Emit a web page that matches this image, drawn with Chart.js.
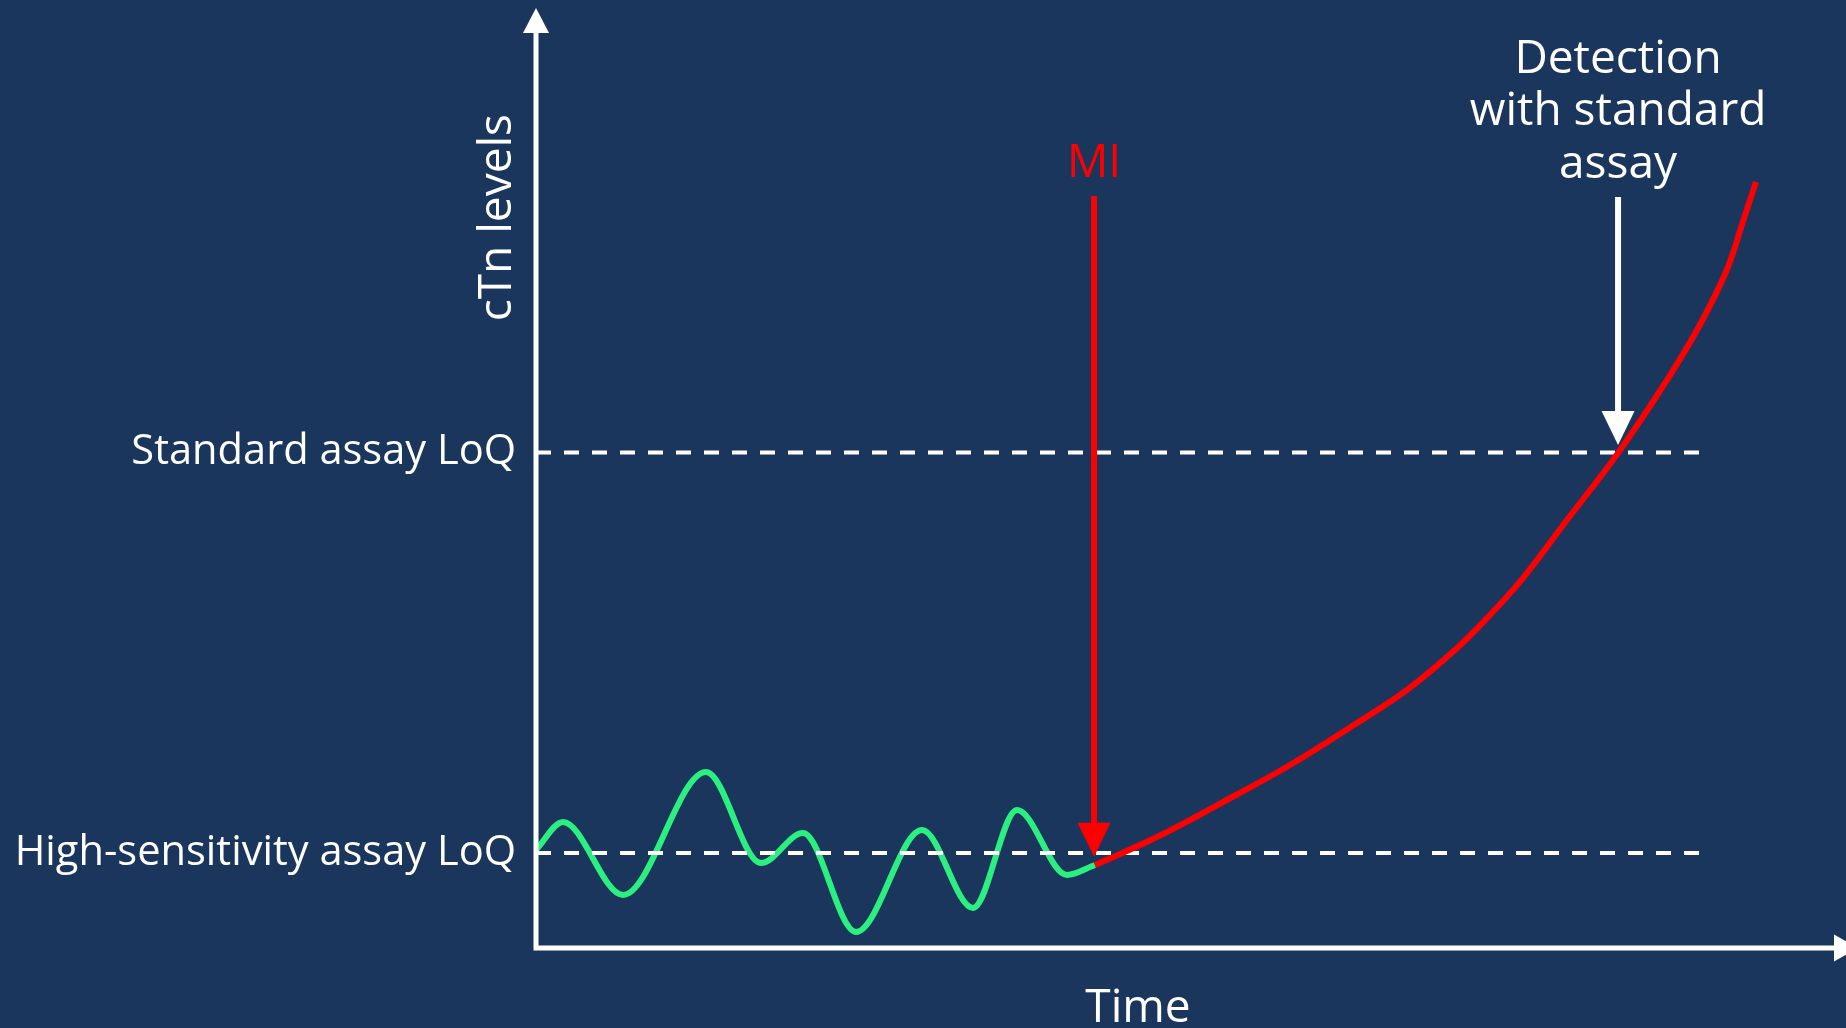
<!DOCTYPE html>
<html>
<head>
<meta charset="utf-8">
<title>cTn levels over time</title>
<script src="https://cdn.jsdelivr.net/npm/chart.js@4"></script>
<style>
  html, body { margin: 0; padding: 0; background: #1A365D; overflow: hidden; }
  #chart { display: block; }
</style>
</head>
<body>
<canvas id="chart" width="1846" height="1028"></canvas>
<script>
// limits of quantification (y axis ticks)
var loqLabels = ['High-sensitivity assay LoQ', 'Standard assay LoQ'];
var loqLevels = [10.1, 52.7];
var loqLineEnd = 88.9;

// baseline fluctuation before MI (green)
var baselineTime  = [0, 2.06, 6.64, 12.98, 17.18, 20.38, 24.43, 29.47, 33.36, 36.72, 40.53, 42.67];
var baselineLevel = [10.43, 13.40, 5.64, 18.72, 9.04, 12.23, 1.70, 12.55, 4.26, 14.68, 7.77, 8.83];

// rise after MI (red)
var riseTime  = [42.67, 47.40, 52.44, 57.56, 62.67, 66.49, 70.31, 72.82, 75.34, 78.70, 82.60, 86.34, 88.85, 90.89, 92.16, 93.13];
var riseLevel = [8.83, 11.81, 15.53, 19.47, 23.94, 27.45, 31.91, 35.43, 39.36, 45.53, 52.66, 60.43, 66.30, 72.10, 77.40, 81.50];

// annotation arrows: MI and detection with standard assay
var arrowTime = [42.6, 82.6];
var arrowFrom = [80.0, 79.9];
var arrowTo   = [9.7, 53.5];
var arrowText = [['MI'], ['Detection', 'with standard', 'assay']];

var axisTitleX = 'Time';
var axisTitleY = 'cTn levels';

var FONT = "'Open Sans', 'Noto Sans', sans-serif";
var arrowColors = ['#FF0000', '#FFFFFF'];

function pts(xs, ys) {
  return xs.map(function (t, i) { return {x: t, y: ys[i]}; });
}

function head(ctx, tx, ty, dir, w, h) {
  ctx.beginPath();
  if (dir === 'up') {
    ctx.moveTo(tx, ty); ctx.lineTo(tx - w / 2, ty + h); ctx.lineTo(tx + w / 2, ty + h);
  } else if (dir === 'down') {
    ctx.moveTo(tx, ty); ctx.lineTo(tx - w / 2, ty - h); ctx.lineTo(tx + w / 2, ty - h);
  } else {
    ctx.moveTo(tx, ty); ctx.lineTo(tx - h, ty - w / 2); ctx.lineTo(tx - h, ty + w / 2);
  }
  ctx.closePath();
  ctx.fill();
}

var annotations = {
  id: 'annotations',
  afterDatasetsDraw: function (chart) {
    var ctx = chart.ctx, a = chart.chartArea;
    var xs = chart.scales.x, ys = chart.scales.y;
    ctx.save();

    // axes with arrow heads
    ctx.strokeStyle = '#FFFFFF';
    ctx.fillStyle = '#FFFFFF';
    ctx.lineWidth = 5;
    ctx.beginPath();
    ctx.moveTo(a.left, a.top + 20);
    ctx.lineTo(a.left, a.bottom + 2.5);
    ctx.moveTo(a.left - 2.5, a.bottom);
    ctx.lineTo(a.right - 8, a.bottom);
    ctx.stroke();
    head(ctx, a.left, a.top, 'up', 26, 25);
    head(ctx, a.right + 12, a.bottom, 'right', 27, 24);

    // axis titles
    ctx.font = '46px ' + FONT;
    ctx.textAlign = 'center';
    ctx.textBaseline = 'alphabetic';
    ctx.fillText(axisTitleX, (a.left + a.right) / 2 - 53, a.bottom + 74);
    ctx.save();
    ctx.translate(a.left - 25, ys.getPixelForValue(77.7));
    ctx.rotate(-Math.PI / 2);
    ctx.fillText(axisTitleY, 0, 0);
    ctx.restore();

    // annotation arrows + captions
    arrowTime.forEach(function (t, i) {
      var px = xs.getPixelForValue(t);
      var top = ys.getPixelForValue(arrowFrom[i]);
      var tip = ys.getPixelForValue(arrowTo[i]);
      ctx.strokeStyle = arrowColors[i];
      ctx.fillStyle = arrowColors[i];
      ctx.lineWidth = 6;
      ctx.beginPath();
      ctx.moveTo(px, top);
      ctx.lineTo(px, tip - 30);
      ctx.stroke();
      head(ctx, px, tip, 'down', 33, 34);

      ctx.font = '46px ' + FONT;
      ctx.textAlign = 'center';
      ctx.textBaseline = 'alphabetic';
      var lines = arrowText[i];
      lines.forEach(function (s, j) {
        ctx.fillText(s, px, top - 19 - (lines.length - 1 - j) * 52.5);
      });
    });
    ctx.restore();
  }
};

var chart = new Chart(document.getElementById('chart'), {
  type: 'line',
  data: {
    datasets: [
      {
        label: 'Before MI',
        data: pts(baselineTime, baselineLevel),
        borderColor: '#2BF080',
        borderWidth: 6,
        cubicInterpolationMode: 'monotone',
        pointRadius: 0,
        order: 3
      },
      {
        label: loqLabels[0],
        data: pts([0, loqLineEnd], [loqLevels[0], loqLevels[0]]),
        borderColor: '#FFFFFF',
        borderWidth: 4,
        borderDash: [15, 13],
        pointRadius: 0,
        order: 2
      },
      {
        label: loqLabels[1],
        data: pts([0, loqLineEnd], [loqLevels[1], loqLevels[1]]),
        borderColor: '#FFFFFF',
        borderWidth: 4,
        borderDash: [15, 13],
        pointRadius: 0,
        order: 2
      },
      {
        label: 'After MI',
        data: pts(riseTime, riseLevel),
        borderColor: '#FF0000',
        borderWidth: 6,
        tension: 0.4,
        pointRadius: 0,
        order: 1
      }
    ]
  },
  options: {
    responsive: false,
    animation: false,
    events: [],
    layout: { padding: { top: 8, right: 0, bottom: 80, left: 0 } },
    plugins: {
      legend: { display: false },
      tooltip: { enabled: false }
    },
    scales: {
      x: { type: 'linear', min: 0, max: 100, display: false },
      y: {
        type: 'linear',
        min: 0,
        max: 100,
        afterBuildTicks: function (s) {
          s.ticks = loqLevels.map(function (v) { return {value: v}; });
        },
        afterFit: function (s) {
          s.width = 536;
          s.paddingTop = 0;
          s.paddingBottom = 0;
        },
        ticks: {
          autoSkip: false,
          padding: 20,
          color: '#FFFFFF',
          font: { family: FONT, size: 41.6 },
          callback: function (v) { return loqLabels[loqLevels.indexOf(v)]; }
        },
        grid: { display: false, drawTicks: false },
        border: { display: false }
      }
    }
  },
  plugins: [annotations]
});
</script>
</body>
</html>
